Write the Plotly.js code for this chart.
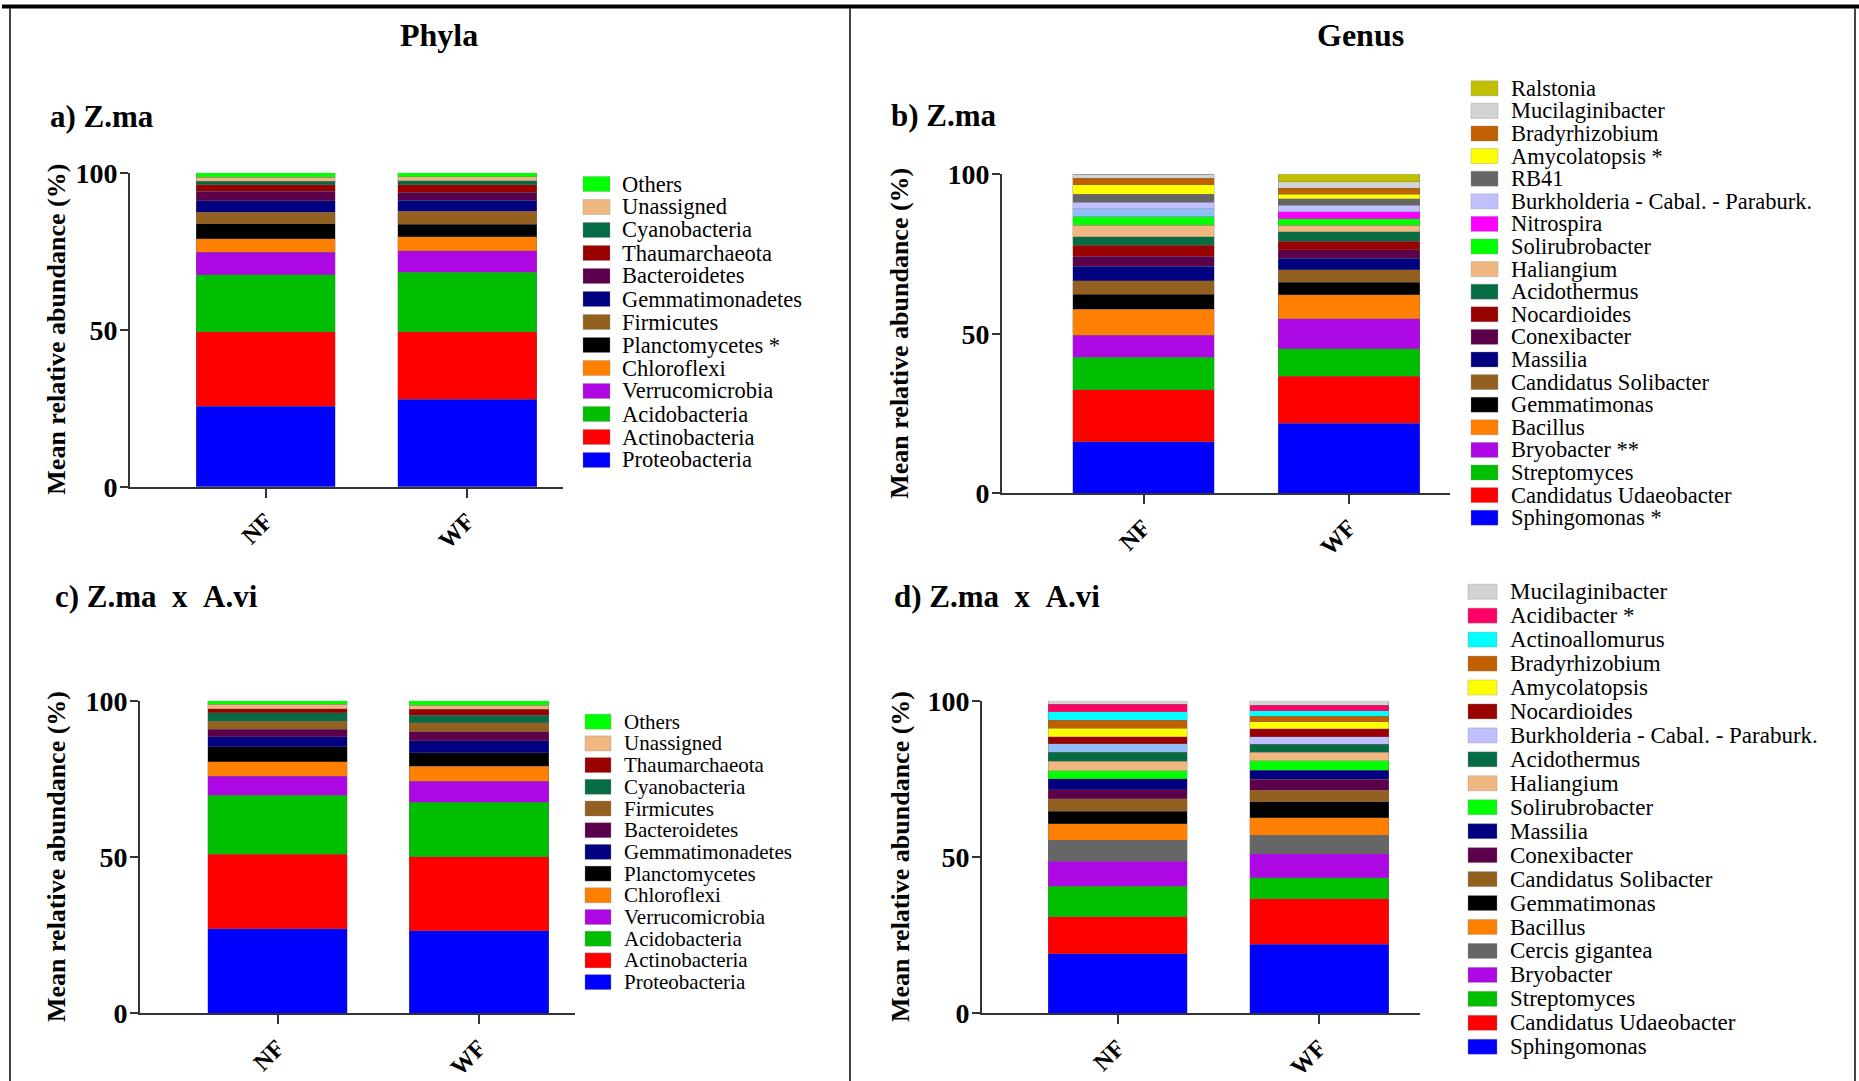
<!DOCTYPE html>
<html>
<head>
<meta charset="utf-8">
<script src="https://cdn.plot.ly/plotly-3.0.1.min.js"></script>
<style>html,body{margin:0;padding:0;background:#fff;}#chart{width:1859px;height:1081px;}</style>
</head>
<body>
<div id="chart"></div>
<script>
// ---------- DATA ----------
const groups = ["NF", "WF"];

// a) Phyla, Z.ma (bottom -> top)
const phylaA = ["Proteobacteria","Actinobacteria","Acidobacteria","Verrucomicrobia","Chloroflexi","Planctomycetes *","Firmicutes","Gemmatimonadetes","Bacteroidetes","Thaumarchaeota","Cyanobacteria","Unassigned","Others"];
const phylaA_NF = [25.6,23.8,18.1,7.2,4.3,4.7,3.7,3.7,3.0,2.1,1.0,1.3,1.5];
const phylaA_WF = [27.9,21.5,18.9,6.9,4.4,4.0,4.2,3.4,2.6,2.4,1.2,1.3,1.3];

// c) Phyla, Z.ma x A.vi (bottom -> top)
const phylaC = ["Proteobacteria","Actinobacteria","Acidobacteria","Verrucomicrobia","Chloroflexi","Planctomycetes","Gemmatimonadetes","Bacteroidetes","Firmicutes","Cyanobacteria","Thaumarchaeota","Unassigned","Others"];
const phylaC_NF = [27.1,23.8,18.9,6.0,4.7,4.7,3.2,2.5,2.5,2.8,1.3,1.4,1.1];
const phylaC_WF = [26.4,23.7,17.4,6.7,4.9,4.2,3.9,2.9,2.8,2.5,1.9,1.3,1.4];

// b) Genus, Z.ma (bottom -> top)
const genusB = ["Sphingomonas *","Candidatus Udaeobacter","Streptomyces","Bryobacter **","Bacillus","Gemmatimonas","Candidatus Solibacter","Massilia","Conexibacter","Nocardioides","Acidothermus","Haliangium","Solirubrobacter","Nitrospira","Burkholderia - Cabal. - Paraburk.","RB41","Amycolatopsis *","Bradyrhizobium","Mucilaginibacter","Ralstonia"];
const genusB_NF = [16.1,16.4,10.1,6.9,8.2,4.7,4.2,4.5,3.2,3.4,2.7,3.6,2.7,2.5,2.1,2.5,2.9,2.1,1.2,0];
const genusB_WF = [22.0,14.6,8.7,9.4,7.6,3.8,4.0,3.5,2.8,2.6,3.0,2.0,2.1,2.2,2.0,2.0,1.5,1.8,2.1,2.3];

// d) Genus, Z.ma x A.vi (bottom -> top)
const genusD = ["Sphingomonas","Candidatus Udaeobacter","Streptomyces","Bryobacter","Cercis gigantea","Bacillus","Gemmatimonas","Candidatus Solibacter","Conexibacter","Massilia","Solirubrobacter","Haliangium","Acidothermus","Burkholderia - Cabal. - Paraburk.","Nocardioides","Amycolatopsis","Bradyrhizobium","Actinoallomurus","Acidibacter *","Mucilaginibacter"];
const genusD_NF = [19.0,11.9,9.7,8.0,6.7,5.4,4.0,3.9,2.9,3.6,2.5,3.0,2.9,2.7,2.2,2.8,2.6,2.6,2.5,1.1];
const genusD_WF = [22.1,14.6,6.6,7.8,5.8,5.6,5.2,3.6,3.6,2.8,3.1,2.7,2.6,2.3,2.6,2.2,1.9,1.7,1.7,1.5];

// ---------- STYLES ----------
const phylaA_colors = ["#0000ff","#ff0000","#00bf00","#ad07e3","#ff8000","#000000","#946020","#000080","#5c004c","#990000","#066c44","#f0b880","#00ff00"];
const phylaC_colors = ["#0000ff","#ff0000","#00bf00","#ad07e3","#ff8000","#000000","#000080","#5c004c","#946020","#066c44","#990000","#f0b880","#00ff00"];
const genusB_colors = ["#0000ff","#ff0000","#00bf00","#ad07e3","#ff8000","#000000","#946020","#000080","#5c004c","#990000","#066c44","#f0b880","#00ff00","#ff00ff","#c0c0ff","#666666","#ffff00","#c06000","#d3d3d3","#c0c000"];
const genusB_NFcolors = [null,null,null,null,null,null,null,null,null,null,null,null,null,"#8fbdf7",null,null,null,null,null,null];
const genusD_colors = ["#0000ff","#ff0000","#00bf00","#ad07e3","#666666","#ff8000","#000000","#946020","#5c004c","#000080","#00ff00","#f0b880","#066c44","#c0c0ff","#990000","#ffff00","#c06000","#00ffff","#ff0066","#d3d3d3"];
const genusD_NFcolors = [null,null,null,null,null,null,null,null,null,null,null,null,null,"#8fbdf7",null,null,null,null,null,null];

const W = 1859, H = 1081;
const X = p => p / W;
const Y = p => 1 - p / H;
const FONT = "Liberation Serif, Times New Roman, serif";

const panels = [
  {names: phylaA, nf: phylaA_NF, wf: phylaA_WF, colors: phylaA_colors, nfc: null, ax: "", px:[130,563], py:[172.7,486.7], range:[-0.6725,1.476],
   leg:{sx:[583,610], tx:621, y0:184, step:23.0, fs:22.5}, label:"a) Z.ma", lx:48, ly:117, tx:57},
  {names: genusB, nf: genusB_NF, wf: genusB_WF, colors: genusB_colors, nfc: genusB_NFcolors, ax: "2", px:[1002,1450], py:[174.3,493.2], range:[-0.6886,1.4915],
   leg:{sx:[1471,1498], tx:1510, y0:88.3, step:22.6, fs:22.5}, label:"b) Z.ma", lx:889, ly:115, tx:900},
  {names: phylaC, nf: phylaC_NF, wf: phylaC_WF, colors: phylaC_colors, nfc: null, ax: "3", px:[140,575], py:[700.7,1013.3], range:[-0.6824,1.4764],
   leg:{sx:[585,611], tx:623, y0:721.7, step:21.7, fs:21}, label:"c) Z.ma x A.vi", lx:53, ly:596, tx:56},
  {names: genusD, nf: genusD_NF, wf: genusD_WF, colors: genusD_colors, nfc: genusD_NFcolors, ax: "4", px:[982,1420], py:[700.7,1013.3], range:[-0.6725,1.501],
   leg:{sx:[1468,1497], tx:1509, y0:591.7, step:23.95, fs:23}, label:"d) Z.ma x A.vi", lx:892, ly:596, tx:900}
];

const traces = [];
const annotations = [];
const shapes = [];
const layout = {
  width: W, height: H, margin: {l:0, r:0, t:0, b:0},
  paper_bgcolor: "#ffffff", plot_bgcolor: "rgba(0,0,0,0)",
  barmode: "stack", showlegend: false,
  font: {family: FONT, color: "#000"}
};

const lineStyle = {width: 0.6, color: "rgba(110,110,110,0.55)"};

panels.forEach(p => {
  const xa = "x" + p.ax, ya = "y" + p.ax;
  p.names.forEach((name, i) => {
    const override = p.nfc && p.nfc[i];
    if (override) {
      traces.push({type:"bar", name:name, x:groups, y:[p.nf[i], null], xaxis:xa, yaxis:ya, width:0.69,
        marker:{color:override, line:lineStyle}, hoverinfo:"name+y"});
      traces.push({type:"bar", name:name, x:groups, y:[null, p.wf[i]], xaxis:xa, yaxis:ya, width:0.69,
        marker:{color:p.colors[i], line:lineStyle}, hoverinfo:"name+y"});
    } else {
      traces.push({type:"bar", name:name, x:groups, y:[p.nf[i], p.wf[i]], xaxis:xa, yaxis:ya, width:0.69,
        marker:{color:p.colors[i], line:lineStyle}, hoverinfo:"name+y"});
    }
  });
  const xk = "xaxis" + p.ax, yk = "yaxis" + p.ax;
  layout[xk] = {
    domain:[X(p.px[0]), X(p.px[1])], anchor: ya, type:"category", range:p.range,
    showline:true, linecolor:"#333", linewidth:2, ticks:"outside", ticklen:9, tickwidth:2, tickcolor:"#333",
    tickangle:-45, tickfont:{family:FONT, size:24, weight:"bold", color:"#000"},
    showgrid:false, zeroline:false, fixedrange:true
  };
  layout[yk] = {
    domain:[Y(p.py[1]), Y(p.py[0])], anchor: xa, range:[0,100], tickvals:[0,50,100],
    showline:true, linecolor:"#333", linewidth:2, ticks:"outside", ticklen:8, tickwidth:2, tickcolor:"#333",
    ticklabelstandoff:-3,
    tickfont:{family:FONT, size:28, weight:"bold", color:"#000"},
    showgrid:false, zeroline:false, fixedrange:true
  };
  // custom legend (top -> bottom = reversed stack order)
  const n = p.names.length;
  for (let k = 0; k < n; k++) {
    const i = n - 1 - k;
    const cy = p.leg.y0 + k * p.leg.step;
    shapes.push({type:"rect", xref:"paper", yref:"paper",
      x0:X(p.leg.sx[0]), x1:X(p.leg.sx[1]), y0:Y(cy+7.5), y1:Y(cy-7.5),
      fillcolor:p.colors[i], line:{width:0.6, color:"rgba(140,140,140,0.6)"}});
    annotations.push({xref:"paper", yref:"paper", x:X(p.leg.tx), y:Y(cy), xanchor:"left", yanchor:"middle",
      text:p.names[i], showarrow:false, borderpad:0, font:{family:FONT, size:p.leg.fs, color:"#000"}});
  }
  // panel label
  annotations.push({xref:"paper", yref:"paper", x:X(p.lx), y:Y(p.ly), xanchor:"left", yanchor:"middle",
    text:"<b>"+p.label.replace(/ x /g, "&nbsp;&nbsp;x&nbsp;&nbsp;")+"</b>", showarrow:false, font:{family:FONT, size:31, color:"#000"}});
  // y-axis title
  annotations.push({xref:"paper", yref:"paper", x:X(p.tx), y:Y((p.py[0]+p.py[1])/2), xanchor:"center", yanchor:"middle",
    text:"<b>Mean relative abundance (%)</b>", textangle:-90, showarrow:false, font:{family:FONT, size:26, color:"#000"}});
});

// section titles
annotations.push({xref:"paper", yref:"paper", x:X(439), y:Y(35), xanchor:"center", yanchor:"middle",
  text:"<b>Phyla</b>", showarrow:false, font:{family:FONT, size:32, color:"#000"}});
annotations.push({xref:"paper", yref:"paper", x:X(1360), y:Y(35), xanchor:"center", yanchor:"middle",
  text:"<b>Genus</b>", showarrow:false, font:{family:FONT, size:32, color:"#000"}});

// frame lines
shapes.push({type:"line", xref:"paper", yref:"paper", x0:X(2), x1:X(1859), y0:Y(6.5), y1:Y(6.5), line:{color:"#000", width:4}});
shapes.push({type:"line", xref:"paper", yref:"paper", x0:X(10), x1:X(10), y0:Y(8), y1:Y(1081), line:{color:"#444", width:2}});
shapes.push({type:"line", xref:"paper", yref:"paper", x0:X(850), x1:X(850), y0:Y(8), y1:Y(1081), line:{color:"#444", width:2}});
shapes.push({type:"line", xref:"paper", yref:"paper", x0:X(1855), x1:X(1855), y0:Y(8), y1:Y(1081), line:{color:"#444", width:2}});

layout.annotations = annotations;
layout.shapes = shapes;

Plotly.newPlot("chart", traces, layout, {staticPlot:true, displayModeBar:false});
</script>
</body>
</html>
